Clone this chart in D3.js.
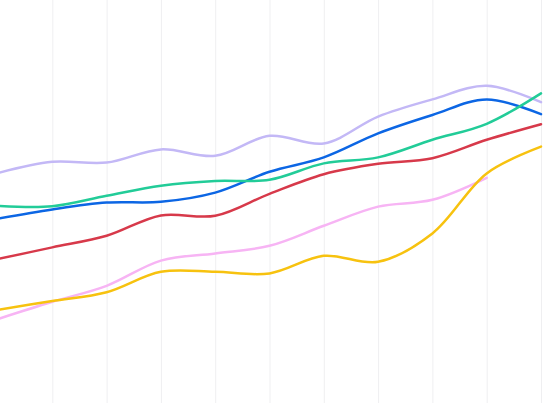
<!DOCTYPE html>
<html>
<head>
<meta charset="utf-8">
<script src="https://cdn.jsdelivr.net/npm/d3@7"></script>
<style>
  html, body { margin: 0; padding: 0; background: #fff; }
  svg { display: block; }
</style>
</head>
<body>
<div id="chart"></div>
<script>
// data (arbitrary units, 0..100)
const categories = ["1", "2", "3", "4", "5", "6", "7", "8", "9", "10", "11"];
const lavender = [57.5, 60.3, 60.1, 63.4, 61.8, 66.8, 64.9, 71.6, 75.9, 79.3, 75.2];
const blue     = [46.1, 48.4, 50.1, 50.3, 52.6, 57.8, 61.4, 67.4, 72.0, 75.9, 72.2];
const green    = [49.3, 49.2, 51.8, 54.3, 55.5, 55.8, 59.9, 61.4, 65.8, 69.8, 77.4];
const red      = [36.0, 38.9, 41.8, 46.9, 46.8, 52.3, 57.2, 59.8, 61.2, 65.8, 69.7];
const pink     = [21.0, 25.3, 29.3, 35.6, 37.4, 39.3, 44.3, 49.1, 50.8, 56.3, null];
const yellow   = [23.3, 25.5, 27.7, 32.8, 32.8, 32.4, 36.8, 35.3, 42.4, 57.4, 64.1];

const series = [
    { name: "lavender", values: lavender, color: "#c3b8f6" },
    { name: "pink", values: pink, color: "#f7b4f4" },
    { name: "red", values: red, color: "#d7394a" },
    { name: "blue", values: blue, color: "#0c66e4" },
    { name: "green", values: green, color: "#22cc98" },
    { name: "yellow", values: yellow, color: "#f7c20f" }
];

const width = 544, height = 403;

const svg = d3.select("#chart")
    .append("svg")
    .attr("width", width)
    .attr("height", height);

const x = d3.scalePoint()
    .domain(categories)
    .range([-2, 541]);

const y = d3.scaleLinear()
    .domain([0, 100])
    .range([403, 3]);

// vertical grid lines
svg.append("g")
    .selectAll("line")
    .data(categories)
    .enter()
    .append("line")
    .attr("x1", d => x(d) + 0.5)
    .attr("x2", d => x(d) + 0.5)
    .attr("y1", 0)
    .attr("y2", height)
    .attr("stroke", "#efeff1")
    .attr("stroke-width", 1);

const line = d3.line()
    .defined(d => d.v != null)
    .x(d => x(d.c))
    .y(d => y(d.v))
    .curve(d3.curveCatmullRom);

svg.append("g")
    .selectAll("path")
    .data(series)
    .enter()
    .append("path")
    .attr("d", s => line(s.values.map((v, i) => ({ c: categories[i], v: v }))))
    .attr("fill", "none")
    .attr("stroke", s => s.color)
    .attr("stroke-width", 2.5)
    .attr("stroke-linecap", "round");
</script>
</body>
</html>
